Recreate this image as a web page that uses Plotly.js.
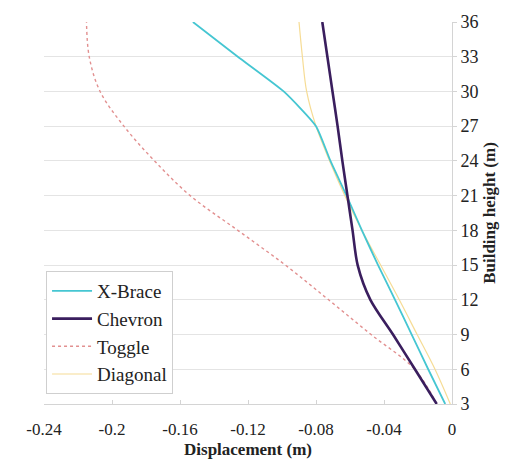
<!DOCTYPE html>
<html>
<head>
<meta charset="utf-8">
<script src="https://cdn.plot.ly/plotly-3.0.1.min.js"></script>
<style>html,body{margin:0;padding:0;background:#fff;}#chart{width:508px;height:463px;}</style>
</head>
<body>
<div id="chart"></div>
<script>
// Building heights (m)
const heights = [3, 6, 9, 12, 15, 18, 21, 24, 27, 30, 33, 36];
// Displacement (m) per system
const xBrace   = [-0.004, -0.014, -0.0237, -0.0335, -0.0435, -0.053, -0.062, -0.0715, -0.080, -0.099, -0.126, -0.1524];
const chevron  = [-0.009, -0.0218, -0.0347, -0.048, -0.0555, -0.0585, -0.0615, -0.0645, -0.0673, -0.0703, -0.0733, -0.0763];
const toggle   = [-0.009, -0.022, -0.0476, -0.0726, -0.098, -0.126, -0.154, -0.175, -0.193, -0.207, -0.2134, -0.215];
const diagonal = [-0.001, -0.010, -0.0205, -0.031, -0.042, -0.053, -0.063, -0.072, -0.080, -0.0855, -0.088, -0.090];
const seriesNames = ["X-Brace", "Chevron", "Toggle", "Diagonal"];
// Axis ticks
const xTickVals = [-0.24, -0.2, -0.16, -0.12, -0.08, -0.04, 0];
const xTickText = ["-0.24", "-0.2", "-0.16", "-0.12", "-0.08", "-0.04", "0"];
const yTickVals = [3, 6, 9, 12, 15, 18, 21, 24, 27, 30, 33, 36];

const FONT = "'Liberation Serif'";

const traces = [
  {x: xBrace, y: heights, name: seriesNames[0], mode: "lines", line: {color: "#45c6d2", width: 1.8, shape: "spline", smoothing: 0.5}},
  {x: chevron, y: heights, name: seriesNames[1], mode: "lines", line: {color: "#3a1e5e", width: 2.6, shape: "spline", smoothing: 0.8}},
  {x: toggle, y: heights, name: seriesNames[2], mode: "lines", line: {color: "#e29090", width: 1.4, dash: "dot", shape: "spline"}},
  {x: diagonal, y: heights, name: seriesNames[3], mode: "lines", line: {color: "#f6dc95", width: 1.2, shape: "spline"}}
];
// draw order: toggle, diagonal, xbrace, chevron
const ordered = [traces[2], traces[3], traces[0], traces[1]];
ordered.forEach(t => { t.legendrank = seriesNames.indexOf(t.name) + 1; });

const layout = {
  width: 508, height: 463,
  margin: {l: 44, r: 56, t: 22, b: 59},
  paper_bgcolor: "#fff", plot_bgcolor: "#fff",
  font: {family: FONT, color: "#222", size: 16},
  showlegend: true,
  legend: {
    x: 0.005, y: 0.348, xanchor: "left", yanchor: "top",
    bgcolor: "#fff", bordercolor: "#cfcfcf", borderwidth: 1,
    font: {family: FONT, size: 19, color: "#222"},
    traceorder: "normal", tracegroupgap: 0, itemwidth: 40
  },
  xaxis: {
    range: [-0.24, 0], tickvals: xTickVals, ticktext: xTickText,
    showgrid: false, zeroline: false,
    showline: true, linecolor: "#d4d4d4", linewidth: 1,
    ticks: "inside", ticklen: 4, tickcolor: "#d4d4d4",
    ticklabelstandoff: 10,
    tickfont: {family: FONT, size: 17, color: "#222"},
    title: {text: "<b>Displacement (m)</b>", font: {family: FONT, size: 17, color: "#222"}, standoff: 4}
  },
  yaxis: {
    range: [3, 36], tickvals: yTickVals, side: "right",
    showgrid: true, gridcolor: "#e4e4e4", gridwidth: 1, zeroline: false,
    showline: true, linecolor: "#d4d4d4", linewidth: 1,
    ticks: "outside", ticklen: 4, tickcolor: "#d4d4d4",
    tickfont: {family: FONT, size: 18, color: "#222"},
    title: {text: "<b>Building height (m)</b>", font: {family: FONT, size: 17, color: "#222"}, standoff: 5}
  }
};

Plotly.newPlot("chart", ordered, layout, {displayModeBar: false, staticPlot: true});
</script>
</body>
</html>
